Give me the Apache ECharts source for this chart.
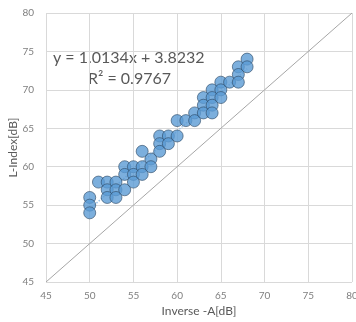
<!DOCTYPE html>
<html>
<head>
<meta charset="utf-8">
<script src="https://cdn.jsdelivr.net/npm/echarts@6/dist/echarts.min.js"></script>
<style>
  html, body { margin: 0; padding: 0; background: #fff; }
  #scatter { width: 356px; height: 322px; }
</style>
</head>
<body>
<div id="scatter"></div>
<script>
// measured points (Inverse -A, L-Index)
var inverseA = [50, 50, 50, 51, 52, 52, 52, 53, 53, 53, 54, 54, 54, 55, 55, 55, 56, 56, 56, 57, 57,
                58, 58, 58, 59, 59, 60, 60, 61, 62, 62, 63, 63, 63, 64, 64, 64, 64, 65, 65, 65, 66,
                67, 67, 67, 68, 68];
var lIndex   = [56, 55, 54, 58, 58, 57, 56, 58, 57, 56, 60, 59, 57, 60, 59, 58, 60, 59, 62, 61, 60,
                64, 63, 62, 64, 63, 66, 64, 66, 67, 66, 69, 68, 67, 70, 69, 68, 67, 71, 70, 69, 71,
                73, 72, 71, 74, 73];
// y = x reference line and linear trendline ends
var diagX = [45, 80];
var diagY = [45, 80];
var trendX = [50, 68];
var trendY = [54.49, 72.73];
var axisTicks = [45, 50, 55, 60, 65, 70, 75, 80];
var eqText = 'y = 1.0134x + 3.8232';
var r2Text = 'R² = 0.9767';

function pairs(xs, ys) {
    var out = [];
    for (var i = 0; i < xs.length; i++) out.push([xs[i], ys[i]]);
    return out;
}

var grayLine = '#d9d9d9';
var tickColor = '#7f7f7f';

scatterOption = {
    animation: false,
    textStyle: { fontFamily: 'Lato' },
    grid: {
        left: 46,
        right: 4,
        top: 13,
        bottom: 40,
        outerBoundsMode: 'none',
        containLabel: false
    },
    xAxis: {
        type: 'value',
        min: axisTicks[0],
        max: axisTicks[axisTicks.length - 1],
        interval: 5,
        name: 'Inverse -A[dB]',
        nameLocation: 'middle',
        nameGap: 23,
        nameMoveOverlap: false,
        nameTextStyle: { color: '#595959', fontSize: 12, fontFamily: 'Lato' },
        axisLine: { show: false },
        axisTick: { show: false },
        axisLabel: { color: tickColor, fontSize: 10, margin: 9, fontFamily: 'Lato' },
        splitLine: { show: true, lineStyle: { color: grayLine, width: 1 } }
    },
    yAxis: {
        type: 'value',
        min: axisTicks[0],
        max: axisTicks[axisTicks.length - 1],
        interval: 5,
        name: 'L-Index[dB]',
        nameLocation: 'middle',
        nameGap: 27,
        nameMoveOverlap: false,
        nameTextStyle: { color: '#595959', fontSize: 12, fontFamily: 'Lato' },
        axisLine: { show: false },
        axisTick: { show: false },
        axisLabel: { color: tickColor, fontSize: 10, margin: 12, fontFamily: 'Lato' },
        splitLine: { show: true, lineStyle: { color: grayLine, width: 1 } }
    },
    graphic: [
        {
            type: 'text',
            left: 53,
            top: 50,
            style: { text: eqText, fill: '#595959', font: '16px Lato' }
        },
        {
            type: 'text',
            left: 88,
            top: 71,
            style: { text: r2Text, fill: '#595959', font: '16px Lato' }
        }
    ],
    series: [
        {
            type: 'line',
            data: pairs(diagX, diagY),
            symbol: 'none',
            silent: true,
            lineStyle: { color: '#a6a6a6', width: 1 },
            z: 1
        },
        {
            type: 'line',
            data: pairs(trendX, trendY),
            symbol: 'none',
            silent: true,
            lineStyle: { color: '#9dc3e6', width: 1.5, type: 'dotted' },
            z: 2
        },
        {
            type: 'scatter',
            data: pairs(inverseA, lIndex),
            symbol: 'circle',
            symbolSize: 12,
            itemStyle: {
                color: '#5b9bd5',
                borderColor: '#2e4a66',
                borderWidth: 0.8
            },
            z: 3
        }
    ]
};

var scatterDom = document.getElementById('scatter');
var scatterChart = echarts.init(scatterDom);
scatterOption && scatterChart.setOption(scatterOption);
</script>
</body>
</html>
